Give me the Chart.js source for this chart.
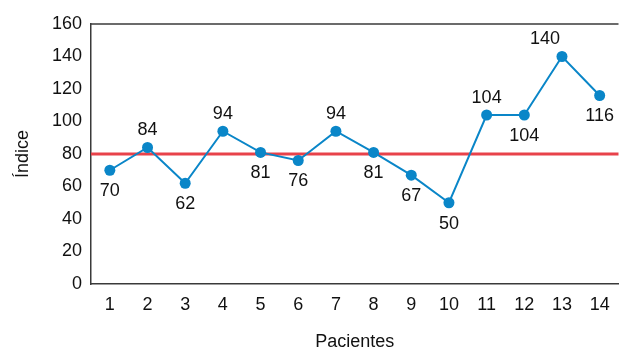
<!DOCTYPE html>
<html>
<head>
<meta charset="utf-8">
<script src="https://cdn.jsdelivr.net/npm/chart.js@4.4.1/dist/chart.umd.min.js"></script>
<style>
  html, body { margin: 0; padding: 0; background: #ffffff; }
  #wrap { width: 624px; height: 349px; position: relative; }
</style>
</head>
<body>
<div id="wrap"><canvas id="c" width="624" height="349"></canvas></div>
<script>
// Patients on the x axis and their index values
const patients = ['1', '2', '3', '4', '5', '6', '7', '8', '9', '10', '11', '12', '13', '14'];
const indexValues = [70, 84, 62, 94, 81, 76, 94, 81, 67, 50, 104, 104, 140, 116];
// Where each value label sits relative to its point
const labelSide = ['below', 'above', 'below', 'above', 'below', 'below', 'above', 'below', 'below', 'below', 'above', 'below', 'above', 'below'];
const labelShiftX = [0, 0, 0, 0, 0, 0, 0, 0, 0, 0, 0, 0, -17, 0];
const referenceLevel = 80;
const yTicks = [0, 20, 40, 60, 80, 100, 120, 140, 160];

const FONT = '"Liberation Sans", Arial, sans-serif';
const AXIS_COLOR = '#3a3a3a';
const BLUE = '#0a86c8';
const RED = '#e8424a';

// Horizontal reference line, top frame line and the value labels
const overlayPlugin = {
  id: 'overlay',
  beforeDatasetsDraw(chart) {
    const { ctx, chartArea, scales } = chart;
    const y = scales.y.getPixelForValue(referenceLevel);
    ctx.save();
    ctx.strokeStyle = RED;
    ctx.lineWidth = 3;
    ctx.beginPath();
    ctx.moveTo(chartArea.left, y);
    ctx.lineTo(chartArea.right, y);
    ctx.stroke();
    ctx.strokeStyle = AXIS_COLOR;
    ctx.lineWidth = 1.5;
    ctx.beginPath();
    ctx.moveTo(chartArea.left, chartArea.top);
    ctx.lineTo(chartArea.right, chartArea.top);
    ctx.stroke();
    ctx.restore();
  },
  afterDatasetsDraw(chart) {
    const { ctx, scales } = chart;
    ctx.save();
    ctx.fillStyle = '#111111';
    ctx.font = '18px ' + FONT;
    ctx.textAlign = 'center';
    ctx.textBaseline = 'middle';
    indexValues.forEach((v, i) => {
      const x = scales.x.getPixelForValue(i) + labelShiftX[i];
      const py = scales.y.getPixelForValue(v);
      const y = labelSide[i] === 'above' ? py - 17 : py + 21;
      ctx.fillText(String(v), x, y);
    });
    ctx.restore();
  }
};

new Chart(document.getElementById('c'), {
  type: 'line',
  data: {
    labels: patients,
    datasets: [{
      data: indexValues,
      borderColor: BLUE,
      backgroundColor: BLUE,
      borderWidth: 2,
      pointRadius: 5.5,
      pointHoverRadius: 5.5,
      pointBackgroundColor: BLUE,
      pointBorderWidth: 0,
      tension: 0,
      fill: false
    }]
  },
  options: {
    responsive: false,
    animation: false,
    devicePixelRatio: 1,
    layout: { padding: { top: 24, right: 0, bottom: 0, left: 0 } },
    plugins: { legend: { display: false }, tooltip: { enabled: false } },
    scales: {
      x: {
        offset: true,
        grid: { display: false, drawTicks: false },
        border: { display: true, color: AXIS_COLOR, width: 1.5 },
        ticks: { color: '#111111', font: { family: FONT, size: 18 }, padding: 10, maxRotation: 0, autoSkip: false },
        title: { display: true, text: 'Pacientes', color: '#111111', font: { family: FONT, size: 18 }, padding: { top: 0, bottom: -4 } },
        afterFit(scale) { scale.height = 65; }
      },
      y: {
        min: 0,
        max: 160,
        afterBuildTicks(scale) { scale.ticks = yTicks.map(v => ({ value: v })); },
        grid: { display: false, drawTicks: false },
        border: { display: true, color: AXIS_COLOR, width: 1.5 },
        ticks: { color: '#111111', font: { family: FONT, size: 18 }, padding: 9 },
        title: { display: true, text: 'Índice', color: '#111111', font: { family: FONT, size: 18 }, padding: { top: 12, bottom: 0 } },
        afterFit(scale) { scale.width = 91; }
      }
    }
  },
  plugins: [overlayPlugin]
});
</script>
</body>
</html>
